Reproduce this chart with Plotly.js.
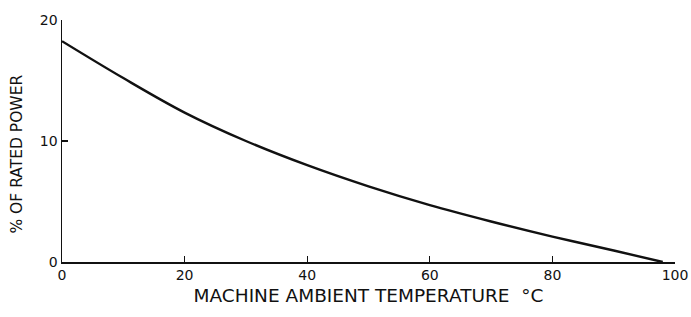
<!DOCTYPE html>
<html>
<head>
<meta charset="utf-8">
<script src="https://cdn.plot.ly/plotly-3.0.1.min.js"></script>
<style>html,body{margin:0;padding:0;background:#fff;}#chart{width:691px;height:317px;}</style>
</head>
<body>
<div id="chart"></div>
<script>
const temperatureC = [0, 10, 20, 30, 40, 50, 60, 70, 80, 90, 98];
const ratedPowerPct = [18.25, 15.2, 12.35, 10.0, 8.0, 6.25, 4.7, 3.35, 2.1, 0.95, 0];
const xTicks = [0, 20, 40, 60, 80, 100];
const yTicks = [0, 10, 20];
const xTitle = 'MACHINE AMBIENT TEMPERATURE  °C';
const yTitle = '% OF RATED POWER';

const fam = {family: 'DejaVu Sans, Noto Sans, sans-serif', color: '#111'};

Plotly.newPlot('chart', [{
  x: temperatureC,
  y: ratedPowerPct,
  mode: 'lines',
  line: {color: '#111', width: 2.4, shape: 'spline', smoothing: 1},
  hoverinfo: 'none'
}], {
  width: 691, height: 317,
  margin: {l: 62, r: 16, t: 20, b: 55},
  paper_bgcolor: '#fff', plot_bgcolor: '#fff',
  showlegend: false,
  font: Object.assign({size: 14}, fam),
  xaxis: {
    range: [0, 100], tickvals: xTicks, ticktext: xTicks.map(String),
    ticks: 'inside', ticklen: 6, tickwidth: 1.3, tickcolor: '#111',
    showline: true, linecolor: '#111', linewidth: 1.5,
    showgrid: false, zeroline: false, fixedrange: true,
    tickfont: Object.assign({size: 14}, fam),
    title: {text: xTitle, font: Object.assign({size: 18.5}, fam), standoff: 7}
  },
  yaxis: {
    range: [0, 20], tickvals: yTicks, ticktext: yTicks.map(String),
    ticks: 'inside', ticklen: 6, tickwidth: 1.3, tickcolor: '#111',
    showline: true, linecolor: '#111', linewidth: 1.5,
    showgrid: false, zeroline: false, fixedrange: true,
    tickfont: Object.assign({size: 14}, fam)
  },
  annotations: [{
    text: yTitle, xref: 'paper', yref: 'paper',
    x: -0.073, y: 0.445, xanchor: 'center', yanchor: 'middle',
    textangle: -90, showarrow: false,
    font: Object.assign({size: 15.5}, fam)
  }]
}, {displayModeBar: false, staticPlot: true});
</script>
</body>
</html>
